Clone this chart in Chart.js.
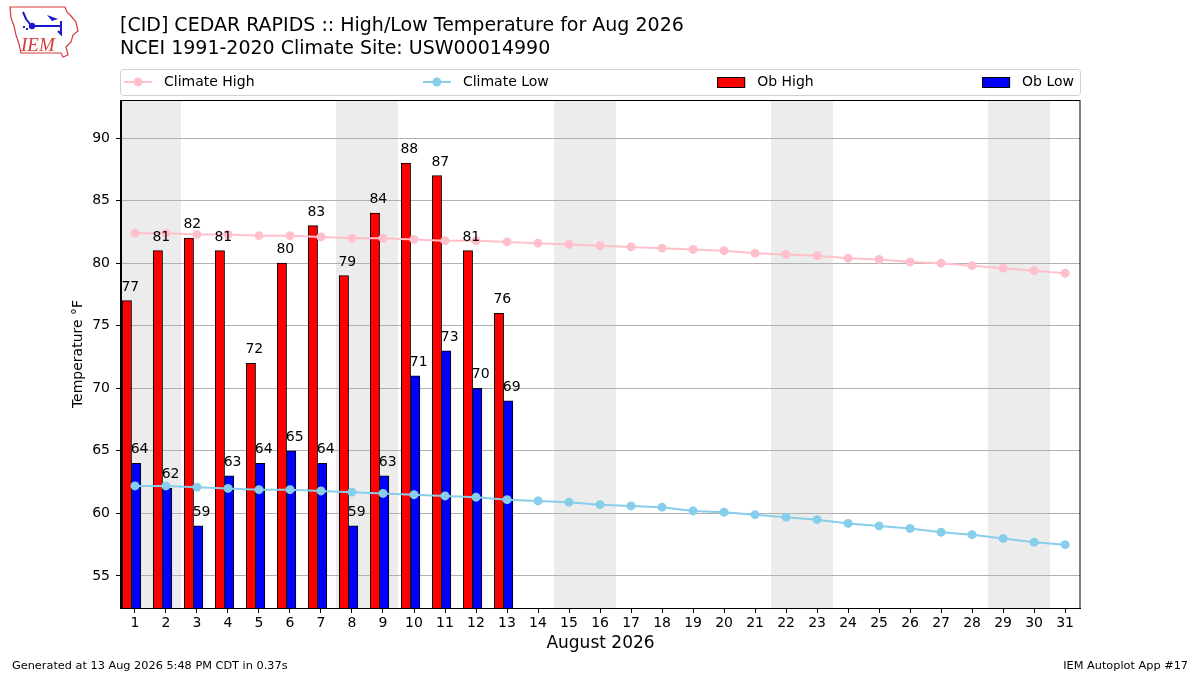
<!DOCTYPE html>
<html>
<head>
<meta charset="utf-8">
<script src="https://cdn.jsdelivr.net/npm/chart.js@4/dist/chart.umd.min.js"></script>
<style>
  html, body { margin: 0; padding: 0; background: #fff; }
  #wrap { width: 1200px; height: 675px; position: relative; }
</style>
</head>
<body>
<div id="wrap"><canvas id="chart" width="1200" height="675"></canvas></div>
<script>
// day of month for the climate lines and the x axis
var days = [1, 2, 3, 4, 5, 6, 7, 8, 9, 10, 11, 12, 13, 14, 15, 16,
            17, 18, 19, 20, 21, 22, 23, 24, 25, 26, 27, 28, 29, 30, 31];
// observed days so far
var obDays = [1, 2, 3, 4, 5, 6, 7, 8, 9, 10, 11, 12, 13];
var obHigh = [77, 81, 82, 81, 72, 80, 83, 79, 84, 88, 87, 81, 76];
var obLow = [64, 62, 59, 63, 64, 65, 64, 59, 63, 71, 73, 70, 69];
// NCEI 1991-2020 daily normals
var climHigh = [82.4, 82.4, 82.3, 82.3, 82.2, 82.2, 82.1, 82.0, 82.0, 81.9, 81.8, 81.8, 81.7, 81.6, 81.5, 81.4,
                81.3, 81.2, 81.1, 81.0, 80.8, 80.7, 80.6, 80.4, 80.3, 80.1, 80.0, 79.8, 79.6, 79.4, 79.2];
var climLow = [62.2, 62.2, 62.1, 62.0, 61.9, 61.9, 61.8, 61.7, 61.6, 61.5, 61.4, 61.3, 61.1, 61.0, 60.9, 60.7,
               60.6, 60.5, 60.2, 60.1, 59.9, 59.7, 59.5, 59.2, 59.0, 58.8, 58.5, 58.3, 58.0, 57.7, 57.5];
// saturdays and sundays get shaded
var weekendDays = [1, 2, 8, 9, 15, 16, 22, 23, 29, 30];
var yTicks = [55, 60, 65, 70, 75, 80, 85, 90];

var FONT = 'DejaVu Sans';
Chart.defaults.font.family = FONT;
Chart.defaults.color = '#000';

var HIGH_SHIFT = -0.26, LOW_SHIFT = 0.04; // bar centres, in days
var LABEL_SHIFT = 0.15;

function pairs(xs, ys, shift) {
  return ys.map(function(v, i) { return {x: xs[i] + shift, y: v}; });
}

var weekendShade = {
  id: 'weekendShade',
  beforeDraw: function(chart) {
    var ctx = chart.ctx, a = chart.chartArea, xs = chart.scales.x;
    // join consecutive days into one band so no seam shows
    var runs = [];
    weekendDays.forEach(function(d) {
      var last = runs[runs.length - 1];
      if (last && last[1] === d - 1) last[1] = d;
      else runs.push([d, d]);
    });
    ctx.save();
    ctx.fillStyle = '#ececec';
    runs.forEach(function(r) {
      var x0 = Math.max(Math.round(xs.getPixelForValue(r[0] - 0.5)), a.left);
      var x1 = Math.min(Math.round(xs.getPixelForValue(r[1] + 0.5)), a.right);
      ctx.fillRect(x0, a.top, x1 - x0, a.bottom - a.top);
    });
    ctx.restore();
  }
};

var barLabels = {
  id: 'barLabels',
  afterDatasetsDraw: function(chart) {
    var ctx = chart.ctx, xs = chart.scales.x, ys = chart.scales.y;
    ctx.save();
    ctx.font = '14px "' + FONT + '"';
    ctx.fillStyle = '#000';
    ctx.textAlign = 'center';
    ctx.textBaseline = 'alphabetic';
    obDays.forEach(function(d, i) {
      ctx.fillText(String(obHigh[i]), xs.getPixelForValue(d - LABEL_SHIFT), ys.getPixelForValue(obHigh[i]) - 10);
      ctx.fillText(String(obLow[i]), xs.getPixelForValue(d + LABEL_SHIFT), ys.getPixelForValue(obLow[i]) - 10);
    });
    ctx.restore();
  }
};

function drawLogo(ctx) {
  ctx.save();
  ctx.strokeStyle = '#d83a3a';
  ctx.lineWidth = 1.2;
  ctx.beginPath();
  ctx.moveTo(10, 7); ctx.lineTo(65, 7); ctx.lineTo(67, 12); ctx.lineTo(71, 16);
  ctx.lineTo(76, 22); ctx.lineTo(78, 31); ctx.lineTo(73, 35); ctx.lineTo(71, 42);
  ctx.lineTo(66, 47); ctx.lineTo(68, 55); ctx.lineTo(63, 57); ctx.lineTo(61, 53);
  ctx.lineTo(21, 53); ctx.lineTo(19, 44); ctx.lineTo(16, 35); ctx.lineTo(14, 26);
  ctx.lineTo(11, 18); ctx.closePath();
  ctx.stroke();
  ctx.strokeStyle = '#1a1acc';
  ctx.fillStyle = '#1a1acc';
  ctx.lineWidth = 2;
  ctx.beginPath(); ctx.moveTo(32, 26); ctx.lineTo(61, 26); ctx.stroke();
  ctx.beginPath(); ctx.arc(32, 26, 3.2, 0, 2 * Math.PI); ctx.fill();
  ctx.beginPath(); ctx.moveTo(23, 12); ctx.lineTo(26, 19); ctx.lineTo(30, 24); ctx.stroke();
  ctx.beginPath(); ctx.moveTo(47, 15); ctx.lineTo(58, 19); ctx.lineTo(52, 21); ctx.closePath(); ctx.fill();
  ctx.beginPath(); ctx.moveTo(61, 21); ctx.lineTo(61, 34); ctx.lineTo(58, 31); ctx.stroke();
  ctx.fillRect(23, 26, 2, 2); ctx.fillRect(26, 28, 2, 2);
  ctx.fillStyle = '#d83a3a';
  ctx.font = 'italic 19px "Liberation Serif"';
  ctx.textAlign = 'left';
  ctx.fillText('IEM', 21, 51);
  ctx.restore();
}

var frame = {
  id: 'frame',
  afterDraw: function(chart) {
    var ctx = chart.ctx, a = chart.chartArea;
    ctx.save();
    // full box round the axes
    ctx.strokeStyle = '#000';
    ctx.lineWidth = 1;
    ctx.strokeRect(a.left - 0.5, a.top + 0.5, a.right - a.left + 0.5, a.bottom - a.top);

    // titles
    ctx.fillStyle = '#000';
    ctx.textAlign = 'left';
    ctx.textBaseline = 'alphabetic';
    ctx.font = '19px "' + FONT + '"';
    ctx.fillText('[CID] CEDAR RAPIDS :: High/Low Temperature for Aug 2026', 120, 31);
    ctx.fillText('NCEI 1991-2020 Climate Site: USW00014990', 120, 54);

    // footer
    ctx.font = '11.3px "' + FONT + '"';
    ctx.fillText('Generated at 13 Aug 2026 5:48 PM CDT in 0.37s', 12, 669);
    ctx.textAlign = 'right';
    ctx.fillText('IEM Autoplot App #17', 1188, 669);

    // legend, spread across the width of the axes
    var top = 69, bottom = 95, left = a.left - 1, right = a.right;
    ctx.fillStyle = '#fff';
    ctx.strokeStyle = '#d0d0d0';
    ctx.beginPath();
    ctx.roundRect(left + 0.5, top + 0.5, right - left, bottom - top, 3);
    ctx.fill();
    ctx.stroke();
    ctx.font = '14px "' + FONT + '"';
    ctx.textAlign = 'left';
    var items = chart.data.datasets.map(function(ds) {
      return {ds: ds, w: 28 + 12 + ctx.measureText(ds.label).width};
    });
    var x0 = left + 4, x1 = right - 6;
    var total = items.reduce(function(s, it) { return s + it.w; }, 0);
    var gap = (x1 - x0 - total) / (items.length - 1);
    var cy = 82, x = x0;
    items.forEach(function(it) {
      var ds = it.ds;
      if (ds.type === 'line') {
        ctx.strokeStyle = ds.borderColor;
        ctx.lineWidth = 2;
        ctx.beginPath(); ctx.moveTo(x, cy); ctx.lineTo(x + 28, cy); ctx.stroke();
        ctx.fillStyle = ds.borderColor;
        ctx.beginPath(); ctx.arc(x + 14, cy, 4.5, 0, 2 * Math.PI); ctx.fill();
      } else {
        ctx.fillStyle = ds.backgroundColor;
        ctx.fillRect(x, cy - 5, 28, 10);
        ctx.strokeStyle = '#000';
        ctx.lineWidth = 1;
        ctx.strokeRect(x + 0.5, cy - 4.5, 27, 10);
      }
      ctx.fillStyle = '#000';
      ctx.fillText(ds.label, x + 40, 86);
      x += it.w + gap;
    });

    drawLogo(ctx);
    ctx.restore();
  }
};

var ctx = document.getElementById('chart');
var chart = new Chart(ctx, {
  type: 'bar',
  data: {
    datasets: [
      {
        type: 'line',
        label: 'Climate High',
        data: pairs(days, climHigh, 0),
        borderColor: 'pink',
        backgroundColor: 'pink',
        borderWidth: 2,
        pointRadius: 4.5,
        pointBorderWidth: 0,
        pointBackgroundColor: 'pink',
        order: 0
      },
      {
        type: 'line',
        label: 'Climate Low',
        data: pairs(days, climLow, 0),
        borderColor: 'skyblue',
        backgroundColor: 'skyblue',
        borderWidth: 2,
        pointRadius: 4.5,
        pointBorderWidth: 0,
        pointBackgroundColor: 'skyblue',
        order: 0
      },
      {
        label: 'Ob High',
        data: pairs(obDays, obHigh, HIGH_SHIFT),
        backgroundColor: 'red',
        borderColor: '#000',
        borderWidth: 1,
        grouped: false,
        barPercentage: 1,
        categoryPercentage: 1,
        order: 1
      },
      {
        label: 'Ob Low',
        data: pairs(obDays, obLow, LOW_SHIFT),
        backgroundColor: 'blue',
        borderColor: '#000',
        borderWidth: 1,
        grouped: false,
        barPercentage: 1,
        categoryPercentage: 1,
        order: 1
      }
    ]
  },
  options: {
    responsive: false,
    animation: false,
    devicePixelRatio: 1,
    layout: {
      padding: {top: 100, right: 120, bottom: 0, left: 0}
    },
    plugins: {
      legend: {display: false},
      title: {display: false},
      tooltip: {enabled: false}
    },
    scales: {
      x: {
        type: 'linear',
        offset: false,
        min: 0.55,
        max: 31.48,
        afterBuildTicks: function(scale) {
          scale.ticks = days.map(function(d) { return {value: d}; });
        },
        afterFit: function(scale) { scale.height = 67; },
        grid: {offset: false, drawOnChartArea: false, drawTicks: true, tickLength: 5, color: '#000'},
        border: {color: '#000', width: 1},
        ticks: {font: {size: 14}, color: '#000', padding: 2, autoSkip: false, maxRotation: 0},
        title: {display: true, text: 'August 2026', font: {size: 17}, color: '#000', padding: {top: 0, bottom: 21}}
      },
      y: {
        min: 52.44,
        max: 93.04,
        afterBuildTicks: function(scale) {
          scale.ticks = yTicks.map(function(v) { return {value: v}; });
        },
        afterFit: function(scale) { scale.width = 121; },
        grid: {color: '#b0b0b0', lineWidth: 1, tickLength: 5, tickColor: '#000'},
        border: {color: '#000', width: 1},
        ticks: {font: {size: 14}, color: '#000', padding: 6},
        title: {display: true, text: 'Temperature °F', font: {size: 14}, color: '#000', padding: {top: 70, bottom: 0}}
      }
    }
  },
  plugins: [weekendShade, barLabels, frame]
});
</script>
</body>
</html>
